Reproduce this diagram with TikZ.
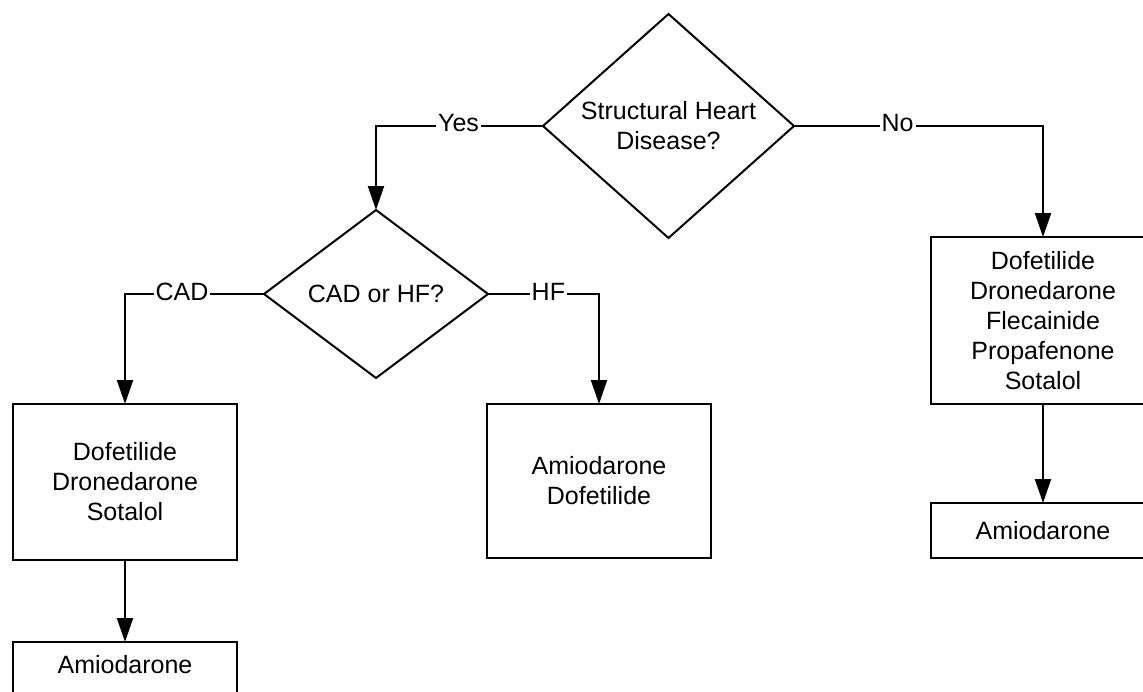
\documentclass[tikz,border=0pt]{standalone}
\usepackage{fontspec}
\setmainfont{Liberation Sans}
\usetikzlibrary{shapes.geometric,arrows.meta}

\begin{document}
\begin{tikzpicture}[x=0.75pt,y=-0.75pt,
  every node/.style={font=\fontsize{18.75}{22.5}\selectfont},
  decision/.style={diamond,draw,line width=1.5pt,inner sep=0pt,outer sep=0pt,align=center},
  drug/.style={rectangle,draw,line width=1.5pt,inner sep=0pt,outer sep=0pt,align=center,minimum width=168pt},
  flow/.style={line width=1.5pt,-{Triangle[length=18pt,width=12pt]}},
  choice/.style={fill=white,inner xsep=1.5pt,inner ysep=0pt,text height=13.5pt,text depth=4.5pt}]

\useasboundingbox (0,0) rectangle (1143,692);

% decisions
\node[decision,minimum width=188.25pt,minimum height=168pt,aspect=1.12]
  (shd) at (668.5,126) {Structural Heart\\Disease?};
\node[decision,minimum width=168pt,minimum height=126pt,aspect=1.33]
  (cadhf) at (376,294) {CAD or HF?};

% drug lists
\node[drug,minimum height=117pt] (cad) at (125,482) {Dofetilide\\Dronedarone\\Sotalol};
\node[drug,minimum height=43.5pt,text height=13.5pt,text depth=10.5pt] (cadalt) at (125,671) {Amiodarone};
\node[drug,minimum height=115.5pt] (hf) at (599,481) {Amiodarone\\Dofetilide};
\node[drug,minimum height=125.25pt] (nshd) at (1043,320.5)
  {Dofetilide\\Dronedarone\\Flecainide\\Propafenone\\Sotalol};
\node[drug,minimum height=41.25pt] (nshdalt) at (1043,530.5) {Amiodarone};

% connectors
\draw[flow] (shd.west) -| node[choice,pos=0.253]{Yes} (cadhf.north);
\draw[flow] (shd.east) -| node[choice,pos=0.208]{No} (nshd.north);
\draw[flow] (cadhf.west) -| node[choice,pos=0.295]{CAD} (cad.north);
\draw[flow] (cadhf.east) -| node[choice,pos=0.272]{HF} (hf.north);
\draw[flow] (cad.south) -- (cadalt.north);
\draw[flow] (nshd.south) -- (nshdalt.north);
\end{tikzpicture}
\end{document}
